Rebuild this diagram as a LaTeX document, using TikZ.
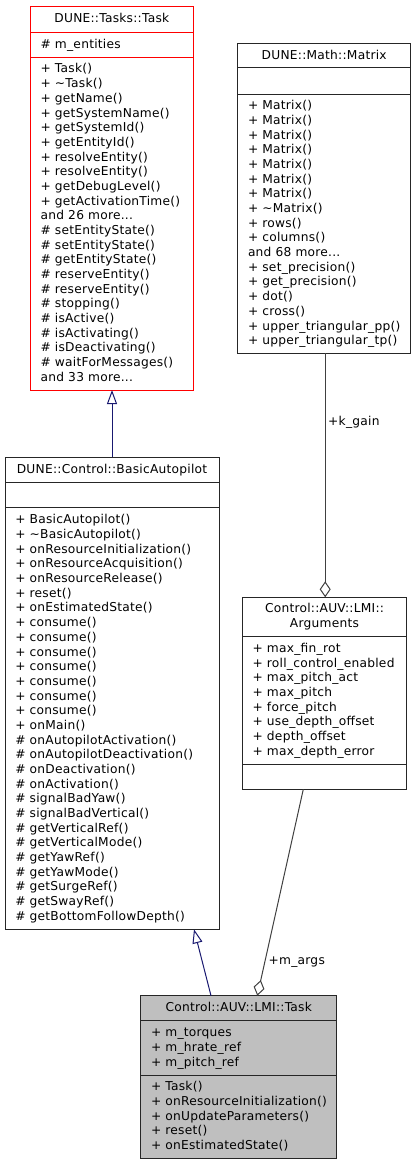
\documentclass[tikz,border=0pt]{standalone}
\usepackage{fontspec}
\setmainfont{DejaVu Sans}[LetterSpace=2.0]
\usetikzlibrary{arrows.meta}
\definecolor{edgeblue}{HTML}{191970}
\definecolor{edgegray}{HTML}{404040}
\definecolor{lmigray}{HTML}{BFBFBF}
\newcommand\mdots{...}
\tikzset{
  cls/.style={draw=black!85, line width=1pt, fill=white, inner sep=0pt, outer sep=0pt, anchor=north west},
  sepline/.style={draw=black!85, line width=1pt},
  ln/.style={inner sep=0pt, outer sep=0pt, anchor=base west, font=\fontsize{12.23}{14.68}\selectfont},
  ttl/.style={inner sep=0pt, outer sep=0pt, anchor=base, font=\fontsize{12.23}{14.68}\selectfont},
  inherit/.style={draw=edgeblue, line width=1pt, -{Triangle[open,length=14pt,width=10pt]}},
  aggr/.style={draw=edgegray, line width=1pt, -{Diamond[open,length=16pt,width=11pt]}},
  lbl/.style={inner sep=0pt, outer sep=0pt, anchor=west, font=\fontsize{12.23}{14.68}\selectfont},
}
% #1 name prefix, #2 x, #3 first baseline, #4 line spacing, #5 lines
\newcommand\clines[5]{\foreach \t [count=\i from 0] in {#5}{\node[ln] (#1-\i) at (#2,{#3+\i*#4}) {\t};}}
\begin{document}
\begin{tikzpicture}[x=1pt,y=-1pt]
\useasboundingbox (0,0) rectangle (417,1165);

% ---------- DUNE::Tasks::Task ----------
\node[cls, draw=red, minimum width=163pt, minimum height=383.3pt] (task) at (30.3,6.7) {};
\draw[sepline, draw=red] (task.west |- 0,32) -- (task.east |- 0,32);
\draw[sepline, draw=red] (task.west |- 0,57) -- (task.east |- 0,57);
\node[ttl] (task-t) at (111.8,22.95) {DUNE::Tasks::Task};
\node[ln] (task-a) at (40.6,48.1) {\# m\_entities};
\clines{task-m}{40.6}{72.96}{14.68}{+ Task(),
+ \textasciitilde Task(),
+ getName(),
+ getSystemName(),
+ getSystemId(),
+ getEntityId(),
+ resolveEntity(),
+ resolveEntity(),
+ getDebugLevel(),
+ getActivationTime(),
and 26 more\mdots,
\# setEntityState(),
\# setEntityState(),
\# getEntityState(),
\# reserveEntity(),
\# reserveEntity(),
\# stopping(),
\# isActive(),
\# isActivating(),
\# isDeactivating(),
\# waitForMessages(),
and 33 more\mdots}

% ---------- DUNE::Math::Matrix ----------
\node[cls, minimum width=173pt, minimum height=310pt] (matrix) at (237.7,43.3) {};
\draw[sepline] (matrix.west |- 0,67.7) -- (matrix.east |- 0,67.7);
\draw[sepline] (matrix.west |- 0,94) -- (matrix.east |- 0,94);
\node[ttl] (matrix-t) at (324.2,59.1) {DUNE::Math::Matrix};
\clines{matrix-m}{248.0}{109.81}{14.68}{+ Matrix(),
+ Matrix(),
+ Matrix(),
+ Matrix(),
+ Matrix(),
+ Matrix(),
+ Matrix(),
+ \textasciitilde Matrix(),
+ rows(),
+ columns(),
and 68 more\mdots,
+ set\_precision(),
+ get\_precision(),
+ dot(),
+ cross(),
+ upper\_triangular\_pp(),
+ upper\_triangular\_tp()}

% ---------- DUNE::Control::BasicAutopilot ----------
\node[cls, minimum width=214pt, minimum height=472pt] (ba) at (5,457.3) {};
\draw[sepline] (ba.west |- 0,482.7) -- (ba.east |- 0,482.7);
\draw[sepline] (ba.west |- 0,507.7) -- (ba.east |- 0,507.7);
\node[ttl] (ba-t) at (112,473.6) {DUNE::Control::BasicAutopilot};
\clines{ba-m}{15.3}{523.9}{14.68}{+ BasicAutopilot(),
+ \textasciitilde BasicAutopilot(),
+ onResourceInitialization(),
+ onResourceAcquisition(),
+ onResourceRelease(),
+ reset(),
+ onEstimatedState(),
+ consume(),
+ consume(),
+ consume(),
+ consume(),
+ consume(),
+ consume(),
+ consume(),
+ onMain(),
\# onAutopilotActivation(),
\# onAutopilotDeactivation(),
\# onDeactivation(),
\# onActivation(),
\# signalBadYaw(),
\# signalBadVertical(),
\# getVerticalRef(),
\# getVerticalMode(),
\# getYawRef(),
\# getYawMode(),
\# getSurgeRef(),
\# getSwayRef(),
\# getBottomFollowDepth()}

% ---------- Control::AUV::LMI::Arguments ----------
\node[cls, minimum width=164.4pt, minimum height=192pt] (args) at (242.3,597.3) {};
\draw[sepline] (args.west |- 0,636) -- (args.east |- 0,636);
\draw[sepline] (args.west |- 0,764.3) -- (args.east |- 0,764.3);
\node[ttl] (args-t1) at (324.5,612.9) {Control::AUV::LMI::};
\node[ttl] (args-t2) at (324.5,627.58) {Arguments};
\clines{args-a}{252.6}{652.37}{14.68}{+ max\_fin\_rot,
+ roll\_control\_enabled,
+ max\_pitch\_act,
+ max\_pitch,
+ force\_pitch,
+ use\_depth\_offset,
+ depth\_offset,
+ max\_depth\_error}

% ---------- Control::AUV::LMI::Task ----------
\node[cls, fill=lmigray, minimum width=196pt, minimum height=162.6pt] (lmi) at (140.7,995.7) {};
\draw[sepline] (lmi.west |- 0,1020.7) -- (lmi.east |- 0,1020.7);
\draw[sepline] (lmi.west |- 0,1075) -- (lmi.east |- 0,1075);
\node[ttl] (lmi-t) at (238.7,1011.8) {Control::AUV::LMI::Task};
\clines{lmi-a}{151.0}{1036.77}{14.68}{+ m\_torques,
+ m\_hrate\_ref,
+ m\_pitch\_ref}
\clines{lmi-m}{151.0}{1090.89}{14.68}{+ Task(),
+ onResourceInitialization(),
+ onUpdateParameters(),
+ reset(),
+ onEstimatedState()}

% ---------- connectors ----------
\coordinate (lmiInh) at ([xshift=-27.7pt]lmi.north);
\coordinate (baInh) at ([xshift=82pt]ba.south);
\coordinate (matOut) at ([xshift=1pt]matrix.south);
\coordinate (argsIn) at ([xshift=1pt]matrix.south |- args.north);
\coordinate (argsOut) at ([xshift=-21.2pt]args.south);
\coordinate (lmiAgg) at ([xshift=18.6pt]lmi.north);

\draw[inherit] (ba.north) -- (ba.north |- task.south);
\draw[inherit] (lmiInh) -- (baInh);
\draw[aggr] (matOut) -- node[lbl, pos=0.284, xshift=3pt] (kgain) {+k\_gain} (argsIn);
\draw[aggr] (argsOut) -- node[lbl, pos=0.835, xshift=3.8pt] (margs) {+m\_args} (lmiAgg);
\end{tikzpicture}
\end{document}
